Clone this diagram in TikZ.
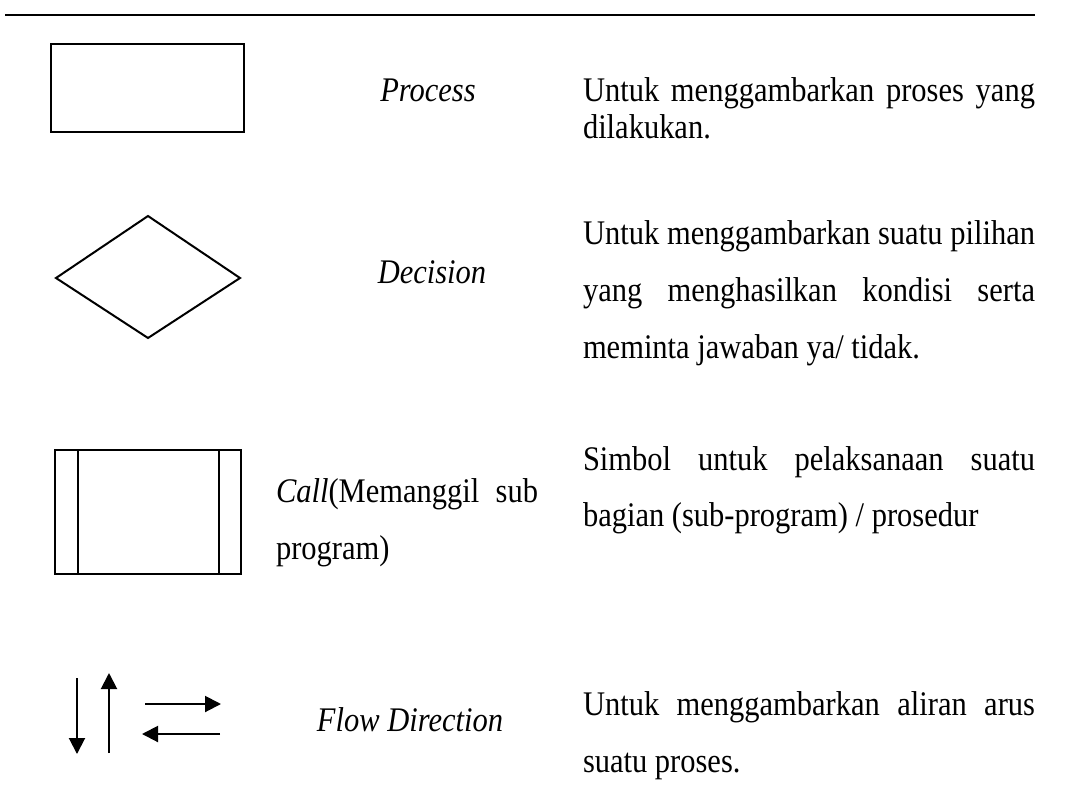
\documentclass[tikz,border=0pt]{standalone}
\usepackage{fontspec}
\setmainfont{Liberation Serif}[FakeStretch=0.884]
\usetikzlibrary{arrows.meta}
\begin{document}
\begin{tikzpicture}[x=1pt,y=-1pt,line width=2pt,
  every node/.style={inner sep=0pt,outer sep=0pt},
  txt/.style={font=\fontsize{34.5}{37}\selectfont},
  desc/.style={txt,anchor=base west},
  lbl/.style={txt,anchor=base,font=\fontsize{34.5}{37}\selectfont\itshape},
  symbox/.style={draw,line width=2pt},
  flowarrow/.style={line width=2pt,-{Triangle[length=16pt,width=16pt]}}]
\useasboundingbox (0,0) rectangle (1074,807);

% header rule
\coordinate (ruleL) at (5,15);
\coordinate (ruleR) at (1035,15);
\draw[line width=2pt] (ruleL) -- (ruleR);

% --- Process ---
\node[symbox,minimum width=193pt,minimum height=88pt] (proc) at (147.5,88) {};
\node[lbl] (proclbl) at (428,101) {Process};
\node[desc] (proc1) at (583,101) {\makebox[452pt][s]{Untuk menggambarkan proses yang}};
\node[desc] (proc2) at (583,138) {dilakukan.};

% --- Decision ---
\coordinate (dw) at (56,278);
\coordinate (dn) at (148,216);
\coordinate (de) at (240,278);
\coordinate (ds) at (148,338);
\draw (dw) -- (dn) -- (de) -- (ds) -- cycle;
\node[lbl] (declbl) at (432,283) {Decision};
\node[desc] (dec1) at (583,244) {\makebox[452pt][s]{Untuk menggambarkan suatu pilihan}};
\node[desc] (dec2) at (583,301) {\makebox[452pt][s]{yang menghasilkan kondisi serta}};
\node[desc] (dec3) at (583,358) {meminta jawaban ya/ tidak.};

% --- Call ---
\node[symbox,minimum width=186pt,minimum height=124pt] (call) at (148,512) {};
\draw ([xshift=23pt]call.north west) -- ([xshift=23pt]call.south west);
\draw ([xshift=-22.5pt]call.north east) -- ([xshift=-22.5pt]call.south east);
\node[desc] (call1) at (276,502) {\makebox[262pt][s]{\textit{Call}(Memanggil sub}};
\node[desc] (call2) at (276,559) {program)};
\node[desc] (calld1) at (583,470) {\makebox[452pt][s]{Simbol untuk pelaksanaan suatu}};
\node[desc] (calld2) at (583,526) {bagian (sub-program) / prosedur};

% --- Flow Direction ---
\coordinate (downS) at (77,678);
\coordinate (downE) at (77,754);
\coordinate (upS) at (109,753);
\coordinate (upE) at (109,673);
\coordinate (rightS) at (145,704);
\coordinate (rightE) at (221,704);
\coordinate (leftS) at (220,734);
\coordinate (leftE) at (142,734);
\draw[flowarrow] (downS) -- (downE);
\draw[flowarrow] (upS) -- (upE);
\draw[flowarrow] (rightS) -- (rightE);
\draw[flowarrow] (leftS) -- (leftE);
\node[lbl] (flowlbl) at (410,731) {Flow Direction};
\node[desc] (flow1) at (583,715) {\makebox[452pt][s]{Untuk menggambarkan aliran arus}};
\node[desc] (flow2) at (583,772) {suatu proses.};
\end{tikzpicture}
\end{document}
